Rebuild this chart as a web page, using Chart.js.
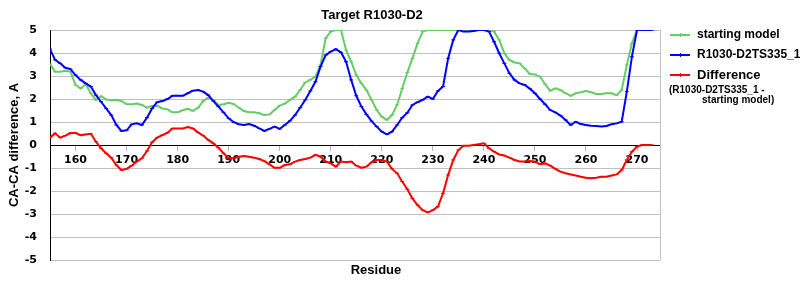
<!DOCTYPE html>
<html>
<head>
<meta charset="utf-8">
<script src="https://cdn.jsdelivr.net/npm/chart.js@4/dist/chart.umd.min.js"></script>
<style>
  body { margin: 0; background: #fff; }
  #wrap { width: 800px; height: 300px; }
</style>
</head>
<body>
<div id="wrap"><canvas id="chart" width="800" height="300"></canvas></div>
<script>
// --- Data ---
const firstResidue = 155;
const startingModel = [
  3.52, 3.19, 3.19, 3.23, 3.19, 2.61, 2.46, 2.64, 2.25, 1.96,
  2.12, 1.98, 1.95, 1.97, 1.91, 1.78, 1.77, 1.80, 1.74, 1.62,
  1.70, 1.71, 1.59, 1.55, 1.42, 1.42, 1.51, 1.57, 1.48, 1.62,
  1.91, 2.06, 1.96, 1.74, 1.77, 1.84, 1.78, 1.62, 1.48, 1.42,
  1.42, 1.38, 1.30, 1.33, 1.52, 1.71, 1.80, 1.96, 2.10, 2.39,
  2.72, 2.83, 2.97, 3.48, 4.64, 4.93, 5.00, 5.00, 4.13, 3.62,
  3.04, 2.68, 2.39, 1.96, 1.52, 1.23, 1.09, 1.30, 1.74, 2.46,
  3.15, 3.77, 4.42, 4.93, 5.00, 5.00, 5.00, 5.00, 5.00, 5.00,
  5.00, 5.00, 5.00, 5.00, 5.00, 5.00, 5.00, 4.93, 4.57, 3.99,
  3.70, 3.59, 3.55, 3.33, 3.09, 3.07, 2.97, 2.64, 2.36, 2.46,
  2.39, 2.25, 2.14, 2.25, 2.29, 2.35, 2.29, 2.22, 2.22, 2.25,
  2.25, 2.17, 2.39, 3.48, 4.42, 5.00, 5.00, 5.00, 5.00
];
const ts335 = [
  4.17, 3.70, 3.55, 3.36, 3.30, 3.04, 2.83, 2.68, 2.54, 2.17,
  1.88, 1.59, 1.30, 0.87, 0.61, 0.64, 0.90, 0.94, 0.87, 1.19,
  1.59, 1.86, 1.91, 2.00, 2.14, 2.14, 2.14, 2.25, 2.36, 2.39,
  2.32, 2.17, 1.91, 1.67, 1.42, 1.16, 0.99, 0.90, 0.87, 0.91,
  0.84, 0.72, 0.61, 0.70, 0.80, 0.70, 0.87, 1.05, 1.30, 1.62,
  1.96, 2.35, 2.75, 3.41, 3.91, 4.06, 4.17, 4.03, 3.62, 2.83,
  2.14, 1.67, 1.33, 1.04, 0.80, 0.58, 0.46, 0.58, 0.87, 1.19,
  1.40, 1.74, 1.86, 1.96, 2.10, 2.00, 2.35, 2.54, 3.77, 4.57,
  5.00, 4.93, 4.93, 4.96, 5.00, 5.00, 4.93, 4.49, 3.99, 3.55,
  3.12, 2.83, 2.68, 2.61, 2.45, 2.25, 2.00, 1.77, 1.52, 1.42,
  1.28, 1.09, 0.87, 1.01, 0.91, 0.87, 0.84, 0.83, 0.80, 0.83,
  0.90, 0.94, 1.01, 2.32, 3.84, 5.00, 5.00, 5.00, 5.00
];
const difference = [
  0.32, 0.51, 0.32, 0.41, 0.52, 0.52, 0.43, 0.46, 0.49, 0.14,
  -0.14, -0.36, -0.55, -0.87, -1.09, -1.04, -0.90, -0.72, -0.58, -0.26,
  0.12, 0.32, 0.43, 0.53, 0.72, 0.72, 0.72, 0.78, 0.72, 0.55,
  0.41, 0.22, 0.07, -0.12, -0.36, -0.58, -0.58, -0.51, -0.48, -0.51,
  -0.55, -0.61, -0.70, -0.84, -0.99, -0.99, -0.87, -0.84, -0.72, -0.65,
  -0.61, -0.55, -0.43, -0.51, -0.72, -0.80, -0.94, -0.72, -0.75, -0.72,
  -0.90, -0.99, -0.94, -0.75, -0.65, -0.65, -0.72, -1.04, -1.23, -1.59,
  -1.92, -2.32, -2.61, -2.83, -2.93, -2.83, -2.68, -2.10, -1.30, -0.65,
  -0.22, -0.03, -0.03, 0.00, 0.03, 0.07, -0.14, -0.29, -0.41, -0.46,
  -0.55, -0.65, -0.72, -0.72, -0.70, -0.72, -0.84, -0.80, -0.90, -1.04,
  -1.16, -1.23, -1.28, -1.33, -1.38, -1.42, -1.45, -1.42, -1.38, -1.38,
  -1.33, -1.28, -1.09, -0.65, -0.29, -0.07, 0.00, 0.00, 0.00
];
const residueTicks = [160, 170, 180, 190, 200, 210, 220, 230, 240, 250, 260, 270];
const seriesNames = ['starting model', 'R1030-D2TS335_1', 'Difference'];
const seriesColors = ['#66cc66', '#0000ff', '#ff0000'];

const toPoints = arr => arr.map((v, i) => ({ x: firstResidue + i, y: v }));

// --- Extra drawing: title, x title, legend, right border ---
const decor = {
  id: 'decor',
  afterDraw(chart) {
    const { ctx, chartArea } = chart;
    ctx.save();
    ctx.strokeStyle = '#c0c0c0';
    ctx.lineWidth = 1;
    ctx.beginPath();
    ctx.moveTo(Math.round(chartArea.right) + 0.5, chartArea.top);
    ctx.lineTo(Math.round(chartArea.right) + 0.5, chartArea.bottom);
    ctx.stroke();

    ctx.fillStyle = '#000';
    ctx.textAlign = 'center';
    ctx.textBaseline = 'middle';
    ctx.font = 'bold 13px "Liberation Sans", Arial, sans-serif';
    ctx.fillText('Target R1030-D2', 372, 15);
    ctx.fillText('Residue', 376, 270);

    // legend
    const rows = [35, 55, 75];
    ctx.textAlign = 'left';
    rows.forEach((y, i) => {
      ctx.strokeStyle = seriesColors[i];
      ctx.lineWidth = 2;
      ctx.beginPath();
      ctx.moveTo(670, y);
      ctx.lineTo(690, y);
      ctx.stroke();
      ctx.lineWidth = 1;
      ctx.beginPath();
      ctx.moveTo(680.5, y - 2);
      ctx.lineTo(680.5, y + 2);
      ctx.stroke();
      ctx.font = (i === 2 ? 'bold 13px' : 'bold 12px') + ' "Liberation Sans", Arial, sans-serif';
      ctx.fillText(seriesNames[i], 697, y);
    });
    ctx.font = 'bold 10px "Liberation Sans", Arial, sans-serif';
    ctx.fillText('(R1030-D2TS335_1 -', 669, 90);
    ctx.fillText('starting model)', 702, 100);
    ctx.restore();
  }
};

new Chart(document.getElementById('chart'), {
  type: 'line',
  data: {
    datasets: [
      { label: seriesNames[0], data: toPoints(startingModel), borderColor: seriesColors[0], order: 3 },
      { label: seriesNames[1], data: toPoints(ts335), borderColor: seriesColors[1], order: 2 },
      { label: seriesNames[2], data: toPoints(difference), borderColor: seriesColors[2], order: 1 }
    ].map(d => Object.assign(d, {
      backgroundColor: d.borderColor,
      borderWidth: 2,
      tension: 0,
      pointStyle: 'line',
      pointRadius: 2,
      pointBorderWidth: 1,
      pointBorderColor: d.borderColor
    }))
  },
  options: {
    responsive: false,
    animation: false,
    layout: { padding: { top: 30, right: 140, bottom: 40, left: 0 } },
    plugins: {
      legend: { display: false },
      title: { display: false },
      tooltip: { enabled: false }
    },
    scales: {
      x: {
        type: 'linear',
        position: { y: 0 },
        min: 155,
        max: 274.5,
        afterBuildTicks: s => { s.ticks = residueTicks.map(v => ({ value: v })); },
        grid: { drawOnChartArea: false, drawTicks: true, tickLength: 5, color: '#b0b0b0' },
        border: { color: '#000', width: 1 },
        ticks: {
          color: '#000',
          padding: 4,
          maxRotation: 0,
          font: { family: '"DejaVu Sans", Verdana, sans-serif', size: 11, weight: 'bold' }
        }
      },
      y: {
        min: -5,
        max: 5,
        afterFit: s => { s.width = 50; },
        grid: { color: '#c0c0c0', drawTicks: false },
        border: { color: '#000', width: 1 },
        ticks: {
          stepSize: 1,
          color: '#000',
          padding: 13,
          font: { family: '"DejaVu Sans", Verdana, sans-serif', size: 11, weight: 'bold' }
        },
        title: {
          display: true,
          text: 'CA-CA difference, A',
          color: '#000',
          padding: { top: 7, bottom: 0 },
          font: { family: '"Liberation Sans", Arial, sans-serif', size: 13, weight: 'bold' }
        }
      }
    }
  },
  plugins: [decor]
});
</script>
</body>
</html>
